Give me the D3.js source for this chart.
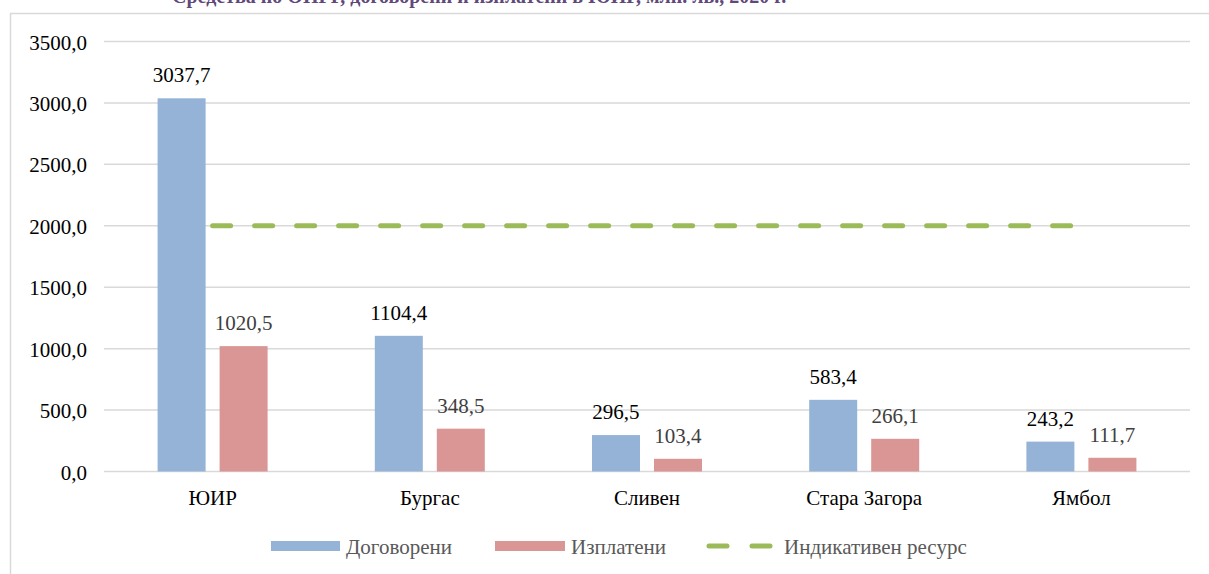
<!DOCTYPE html>
<html>
<head>
<meta charset="utf-8">
<script src="https://cdn.jsdelivr.net/npm/d3@7"></script>
<style>
  html, body { margin: 0; padding: 0; background: #fff; }
  svg { display: block; }
  svg text { font-family: "Liberation Serif", "Times New Roman", serif; }
</style>
</head>
<body>
<svg id="chart" width="1209" height="574"></svg>
<script>
const categories = ["ЮИР", "Бургас", "Сливен", "Стара Загора", "Ямбол"];
const contracted = [3037.7, 1104.4, 296.5, 583.4, 243.2];
const paid = [1020.5, 348.5, 103.4, 266.1, 111.7];
const indicative = [2000, 2000, 2000, 2000, 2000];
const seriesNames = ["Договорени", "Изплатени", "Индикативен ресурс"];
const yTicks = [0, 500, 1000, 1500, 2000, 2500, 3000, 3500];
const titleText = "Средства по ОПРР, договорени и изплатени в ЮИР, млн. лв., 2020 г.";

const colors = { c: "#95B3D7", p: "#D99694", line: "#9BBB59", grid: "#D9D9D9" };
const fmt = v => d3.format(".1f")(v).replace(".", ",");
const FS = "21px";

const svg = d3.select("#chart");

// title, cropped at the top edge as in the reference
svg.append("text").attr("x", 172).attr("y", 3)
  .attr("fill", "#60497A").style("font-size", "20px").style("font-weight", "bold")
  .text(titleText);

// chart area border
svg.append("rect").attr("x", 10.5).attr("y", 13.5).attr("width", 1400).attr("height", 700)
  .attr("fill", "#fff").attr("stroke", colors.grid).attr("stroke-width", 1.5);

const y = d3.scaleLinear().domain([0, 3500]).range([471.5, 41.5]);
const x = d3.scaleBand().domain(categories).range([104, 1190]).paddingInner(0).paddingOuter(0);
const x1 = d3.scaleBand().domain(["c", "p"]).range([0, x.bandwidth()]).paddingInner(14 / 62).paddingOuter(0.8645);

// gridlines
svg.append("g").selectAll("line").data(yTicks).join("line")
  .attr("x1", 104).attr("x2", 1190)
  .attr("y1", d => y(d)).attr("y2", d => y(d))
  .attr("stroke", colors.grid).attr("stroke-width", 1.5);

// y axis labels
const yAxis = d3.axisLeft(y).tickValues(yTicks).tickFormat(fmt).tickSize(0).tickPadding(0);
const gy = svg.append("g").attr("transform", "translate(87,0)").call(yAxis);
gy.attr("font-family", null).attr("font-size", null);
gy.select(".domain").remove();
gy.selectAll("text").style("font-size", FS).attr("fill", "#000").attr("dy", "0.36em");

// x axis labels
const xAxis = d3.axisBottom(x).tickSize(0).tickPadding(0);
const gx = svg.append("g").attr("transform", "translate(0,505)").call(xAxis);
gx.attr("font-family", null).attr("font-size", null);
gx.select(".domain").remove();
gx.selectAll("text").style("font-size", FS).attr("fill", "#000").attr("dy", 0);

// bars
const groups = svg.append("g").selectAll("g").data(categories).join("g")
  .attr("transform", d => `translate(${x(d)},0)`);

groups.append("rect")
  .attr("x", x1("c")).attr("width", x1.bandwidth())
  .attr("y", (d, i) => y(contracted[i])).attr("height", (d, i) => y(0) - y(contracted[i]))
  .attr("fill", colors.c);
groups.append("rect")
  .attr("x", x1("p")).attr("width", x1.bandwidth())
  .attr("y", (d, i) => y(paid[i])).attr("height", (d, i) => y(0) - y(paid[i]))
  .attr("fill", colors.p);

groups.append("text")
  .attr("x", x1("c") + x1.bandwidth() / 2).attr("y", (d, i) => y(contracted[i]) - 16)
  .attr("text-anchor", "middle").style("font-size", FS).attr("fill", "#000")
  .text((d, i) => fmt(contracted[i]));
groups.append("text")
  .attr("x", x1("p") + x1.bandwidth() / 2).attr("y", (d, i) => y(paid[i]) - 16)
  .attr("text-anchor", "middle").style("font-size", FS).attr("fill", "#404040")
  .text((d, i) => fmt(paid[i]));

// indicative line
const line = d3.line().x((d, i) => x(categories[i]) + x.bandwidth() / 2).y(d => y(d));
svg.append("path").datum(indicative).attr("d", line)
  .attr("fill", "none").attr("stroke", colors.line).attr("stroke-width", 5)
  .attr("stroke-linecap", "round").attr("stroke-dasharray", "18,24");

// legend
const lg = svg.append("g");
const ly = 546;
lg.append("rect").attr("x", 271).attr("y", ly - 5).attr("width", 69).attr("height", 10).attr("fill", colors.c);
lg.append("text").attr("x", 346).attr("y", ly + 8).style("font-size", FS).attr("fill", "#595959").text(seriesNames[0]);
lg.append("rect").attr("x", 495).attr("y", ly - 5).attr("width", 70).attr("height", 10).attr("fill", colors.p);
lg.append("text").attr("x", 571).attr("y", ly + 8).style("font-size", FS).attr("fill", "#595959").text(seriesNames[1]);
lg.append("line").attr("x1", 709).attr("x2", 770).attr("y1", ly).attr("y2", ly)
  .attr("stroke", colors.line).attr("stroke-width", 5).attr("stroke-linecap", "round").attr("stroke-dasharray", "18,25");
lg.append("text").attr("x", 784).attr("y", ly + 8).style("font-size", FS).attr("fill", "#595959").text(seriesNames[2]);
</script>
</body>
</html>
